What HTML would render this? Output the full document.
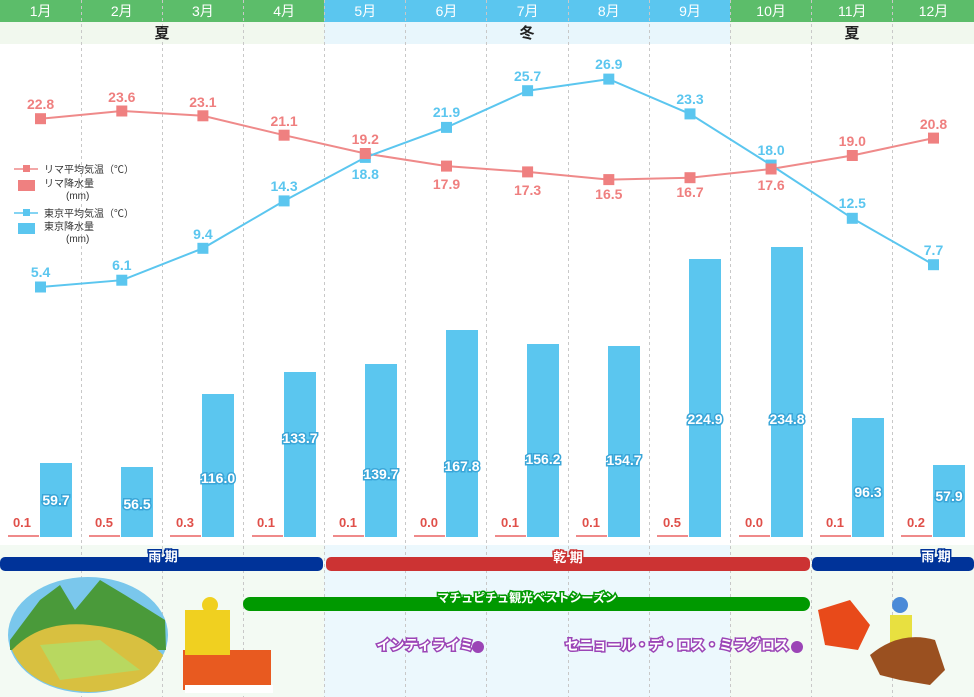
<!DOCTYPE html><html><head><meta charset="utf-8"><style>body{margin:0;background:#fff}svg{display:block;font-family:"Liberation Sans","Noto Sans CJK JP",sans-serif}</style></head><body>
<svg width="974" height="697" viewBox="0 0 974 697" xmlns="http://www.w3.org/2000/svg">
<rect x="0" y="22" width="324" height="22" fill="#f1f8ee"/><rect x="324" y="22" width="406" height="22" fill="#e8f6fc"/><rect x="730" y="22" width="244" height="22" fill="#f1f8ee"/>
<rect x="0" y="545" width="324" height="152" fill="#f3faf3"/><rect x="324" y="545" width="406" height="152" fill="#ecf8fd"/><rect x="730" y="545" width="244" height="152" fill="#f3faf3"/>
<rect x="0" y="0" width="324" height="22" fill="#5cbd6a"/><rect x="324" y="0" width="406" height="22" fill="#5bc6ef"/><rect x="730" y="0" width="244" height="22" fill="#5cbd6a"/>
<g stroke="#c8c8c8" stroke-dasharray="3,3" stroke-width="1">
<line x1="81.5" y1="0" x2="81.5" y2="697"/><line x1="162.5" y1="0" x2="162.5" y2="697"/><line x1="243.5" y1="0" x2="243.5" y2="697"/><line x1="324.5" y1="0" x2="324.5" y2="697"/><line x1="405.5" y1="0" x2="405.5" y2="697"/><line x1="486.5" y1="0" x2="486.5" y2="697"/><line x1="568.5" y1="0" x2="568.5" y2="697"/><line x1="649.5" y1="0" x2="649.5" y2="697"/><line x1="730.5" y1="0" x2="730.5" y2="697"/><line x1="811.5" y1="0" x2="811.5" y2="697"/><line x1="892.5" y1="0" x2="892.5" y2="697"/>
</g>
<g fill="#fff" font-size="14" text-anchor="middle">
<text x="40.6" y="16">1月</text><text x="121.8" y="16">2月</text><text x="202.9" y="16">3月</text><text x="284.1" y="16">4月</text><text x="365.3" y="16">5月</text><text x="446.5" y="16">6月</text><text x="527.6" y="16">7月</text><text x="608.8" y="16">8月</text><text x="690" y="16">9月</text><text x="771.1" y="16">10月</text><text x="852.3" y="16">11月</text><text x="933.5" y="16">12月</text>
</g>
<g fill="#222" font-size="15" font-weight="bold" text-anchor="middle"><text x="162" y="38">夏</text><text x="527" y="38">冬</text><text x="852" y="38">夏</text></g>
<g fill="#5bc6ef">
<rect x="40" y="463" width="32" height="74"/><rect x="121" y="467" width="32" height="70"/><rect x="202" y="394" width="32" height="143"/><rect x="284" y="372" width="32" height="165"/><rect x="365" y="364" width="32" height="173"/><rect x="446" y="330" width="32" height="207"/><rect x="527" y="344" width="32" height="193"/><rect x="608" y="346" width="32" height="191"/><rect x="689" y="259" width="32" height="278"/><rect x="771" y="247" width="32" height="290"/><rect x="852" y="418" width="32" height="119"/><rect x="933" y="465" width="32" height="72"/>
</g>
<g stroke="#ef8a8a" stroke-width="2"><line x1="8" y1="536" x2="39" y2="536"/><line x1="89" y1="536" x2="120" y2="536"/><line x1="170" y1="536" x2="201" y2="536"/><line x1="252" y1="536" x2="283" y2="536"/><line x1="333" y1="536" x2="364" y2="536"/><line x1="414" y1="536" x2="445" y2="536"/><line x1="495" y1="536" x2="526" y2="536"/><line x1="576" y1="536" x2="607" y2="536"/><line x1="657" y1="536" x2="688" y2="536"/><line x1="739" y1="536" x2="770" y2="536"/><line x1="820" y1="536" x2="851" y2="536"/><line x1="901" y1="536" x2="932" y2="536"/></g>
<g fill="#fff" stroke="#3aa6d8" stroke-width="3" paint-order="stroke" font-size="14" font-weight="bold" text-anchor="middle">
<text x="56" y="505">59.7</text><text x="137" y="509">56.5</text><text x="218" y="483">116.0</text><text x="300" y="443">133.7</text><text x="381" y="479">139.7</text><text x="462" y="471">167.8</text><text x="543" y="464">156.2</text><text x="624" y="465">154.7</text><text x="705" y="424">224.9</text><text x="787" y="424">234.8</text><text x="868" y="497">96.3</text><text x="949" y="501">57.9</text>
</g>
<g fill="#e0504a" font-size="13" font-weight="bold" text-anchor="middle">
<text x="22" y="527">0.1</text><text x="104" y="527">0.5</text><text x="185" y="527">0.3</text><text x="266" y="527">0.1</text><text x="348" y="527">0.1</text><text x="429" y="527">0.0</text><text x="510" y="527">0.1</text><text x="591" y="527">0.1</text><text x="672" y="527">0.5</text><text x="754" y="527">0.0</text><text x="835" y="527">0.1</text><text x="916" y="527">0.2</text>
</g>
<polyline fill="none" stroke="#ef8a8a" stroke-width="2" points="40.6,118.7 121.8,111 202.9,115.8 284.1,135.2 365.3,153.5 446.5,166.1 527.6,171.9 608.8,179.6 690,177.7 771.1,169 852.3,155.5 933.5,138.1"/>
<polyline fill="none" stroke="#5bc6ef" stroke-width="2" points="40.6,287 121.8,280.2 202.9,248.3 284.1,200.9 365.3,157.4 446.5,127.4 527.6,90.7 608.8,79.1 690,113.9 771.1,165.1 852.3,218.3 933.5,264.7"/>
<g fill="#5bc6ef"><rect x="35" y="281.5" width="11" height="11"/><rect x="116.3" y="274.7" width="11" height="11"/><rect x="197.4" y="242.8" width="11" height="11"/><rect x="278.6" y="195.4" width="11" height="11"/><rect x="359.8" y="151.9" width="11" height="11"/><rect x="441" y="121.9" width="11" height="11"/><rect x="522.1" y="85.2" width="11" height="11"/><rect x="603.3" y="73.6" width="11" height="11"/><rect x="684.5" y="108.4" width="11" height="11"/><rect x="765.6" y="159.6" width="11" height="11"/><rect x="846.8" y="212.8" width="11" height="11"/><rect x="928" y="259.2" width="11" height="11"/></g>
<g fill="#ef8080"><rect x="35" y="113.2" width="11" height="11"/><rect x="116.3" y="105.5" width="11" height="11"/><rect x="197.4" y="110.3" width="11" height="11"/><rect x="278.6" y="129.7" width="11" height="11"/><rect x="359.8" y="148" width="11" height="11"/><rect x="441" y="160.6" width="11" height="11"/><rect x="522.1" y="166.4" width="11" height="11"/><rect x="603.3" y="174.1" width="11" height="11"/><rect x="684.5" y="172.2" width="11" height="11"/><rect x="765.6" y="163.5" width="11" height="11"/><rect x="846.8" y="150" width="11" height="11"/><rect x="928" y="132.6" width="11" height="11"/></g>
<g fill="#ef7f7f" font-size="14" font-weight="bold" text-anchor="middle">
<text x="40.6" y="109">22.8</text><text x="121.8" y="102">23.6</text><text x="202.9" y="107">23.1</text><text x="284.1" y="126">21.1</text><text x="365.3" y="144">19.2</text><text x="446.5" y="189">17.9</text><text x="527.6" y="195">17.3</text><text x="608.8" y="199">16.5</text><text x="690" y="197">16.7</text><text x="771.1" y="190">17.6</text><text x="852.3" y="146">19.0</text><text x="933.5" y="129">20.8</text>
</g>
<g fill="#5bc6ef" font-size="14" font-weight="bold" text-anchor="middle">
<text x="40.6" y="277">5.4</text><text x="121.8" y="270">6.1</text><text x="202.9" y="239">9.4</text><text x="284.1" y="191">14.3</text><text x="365.3" y="179">18.8</text><text x="446.5" y="117">21.9</text><text x="527.6" y="81">25.7</text><text x="608.8" y="69">26.9</text><text x="690" y="104">23.3</text><text x="771.1" y="155">18.0</text><text x="852.3" y="208">12.5</text><text x="933.5" y="255">7.7</text>
</g>
<g font-size="10" fill="#333">
<line x1="14" y1="169" x2="38" y2="169" stroke="#ef8a8a" stroke-width="1.5"/><rect x="23" y="165" width="7" height="7" fill="#ef8080"/><text x="44" y="173">リマ平均気温（℃）</text>
<rect x="18" y="180" width="17" height="11" fill="#ef8080"/><text x="44" y="187">リマ降水量</text><text x="66" y="199">(mm)</text>
<line x1="14" y1="213" x2="38" y2="213" stroke="#5bc6ef" stroke-width="1.5"/><rect x="23" y="209" width="7" height="7" fill="#5bc6ef"/><text x="44" y="217">東京平均気温（℃）</text>
<rect x="18" y="223" width="17" height="11" fill="#5bc6ef"/><text x="44" y="230">東京降水量</text><text x="66" y="242">(mm)</text>
</g>
<rect x="0" y="557" width="323" height="14" rx="5" fill="#003399"/><rect x="326" y="557" width="484" height="14" rx="5" fill="#cc3333"/><rect x="812" y="557" width="162" height="14" rx="5" fill="#003399"/>
<rect x="243" y="597" width="567" height="14" rx="7" fill="#009900"/>
<g fill="#fff" font-size="13" font-weight="bold" text-anchor="middle" stroke-width="3" paint-order="stroke">
<text x="163" y="561" stroke="#003399">雨 期</text><text x="568" y="562" stroke="#cc3333">乾 期</text><text x="936" y="561" stroke="#003399">雨 期</text>
<text x="527" y="602" stroke="#009900" font-size="12">マチュピチュ観光ベストシーズン</text>
<text x="425" y="650" stroke="#9b44b6" font-size="14">インティライミ</text><text x="677" y="650" stroke="#9b44b6" font-size="14">セニョール・デ・ロス・ミラグロス</text>
</g>
<circle cx="478" cy="647" r="6" fill="#9b44b6"/><circle cx="797" cy="647" r="6" fill="#9b44b6"/>
<ellipse cx="88" cy="635" rx="80" ry="58" fill="#7ac7ec"/>
<path d="M10 640 L40 600 L60 585 L75 610 L100 580 L125 595 L165 620 L166 650 L10 650Z" fill="#4a9a3a"/>
<path d="M12 650 Q40 620 90 625 Q140 630 163 655 Q150 690 90 692 Q30 690 12 650Z" fill="#d8c040"/>
<path d="M40 645 L100 640 L140 670 L60 680Z" fill="#b8d860"/>
<rect x="183" y="650" width="88" height="40" fill="#e85a20"/><rect x="185" y="610" width="45" height="45" fill="#f0d020"/><circle cx="210" cy="605" r="8" fill="#f0d020"/><rect x="185" y="685" width="88" height="8" fill="#fff"/>
<path d="M818 610 L850 600 L870 625 L858 650 L825 645Z" fill="#e84a1a"/>
<circle cx="900" cy="605" r="8" fill="#4a8ad8"/><rect x="890" y="615" width="22" height="30" fill="#e8e040"/>
<path d="M870 655 Q900 630 935 640 L945 670 L930 685 L900 680 L880 675Z" fill="#9a5020"/>
</svg></body></html>
